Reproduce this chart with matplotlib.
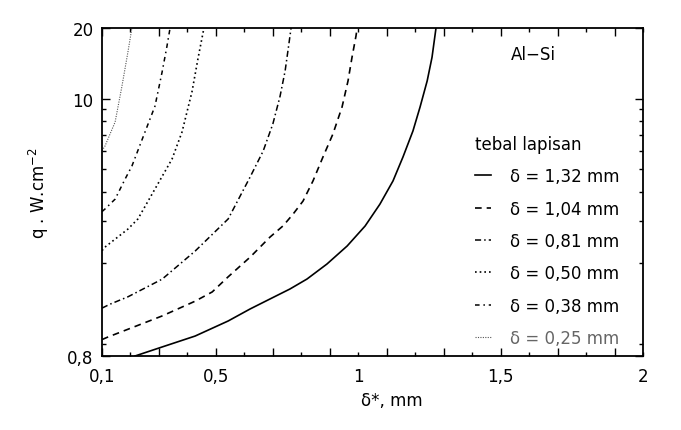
import numpy as np
import matplotlib
matplotlib.use("Agg")
from matplotlib import pyplot as plt
from matplotlib.ticker import FixedLocator, FixedFormatter, LogLocator, NullFormatter

plt.rcParams['font.family'] = ['DejaVu Sans']

# curves: x = delta* [mm], y = q [W/cm2]
x_132 = [0.216, 0.311, 0.427, 0.543, 0.620, 0.690, 0.760, 0.820, 0.890, 0.961, 1.024,
         1.076, 1.122, 1.157, 1.192, 1.217, 1.242, 1.259, 1.273]
y_132 = [0.80, 0.874, 0.973, 1.128, 1.269, 1.40, 1.544, 1.703, 1.973, 2.355, 2.865,
         3.55, 4.46, 5.64, 7.28, 9.21, 11.9, 15.0, 20.0]

x_104 = [0.1, 0.121, 0.191, 0.311, 0.427, 0.487, 0.543, 0.620, 0.690, 0.736, 0.771,
         0.806, 0.841, 0.876, 0.911, 0.943, 0.964, 0.978, 0.992, 0.996]
y_104 = [0.94, 0.964, 1.04, 1.185, 1.37, 1.50, 1.74, 2.11, 2.57, 2.87, 3.22,
         3.66, 4.46, 5.64, 7.07, 9.21, 11.9, 15.0, 18.5, 20.0]

x_081 = [0.1, 0.128, 0.191, 0.311, 0.427, 0.543, 0.620, 0.666, 0.700, 0.725, 0.743, 0.753, 0.764]
y_081 = [1.28, 1.33, 1.43, 1.70, 2.24, 3.07, 4.63, 5.98, 7.80, 10.2, 13.1, 16.0, 20.0]

x_050 = [0.1, 0.1105, 0.191, 0.226, 0.286, 0.346, 0.381, 0.416, 0.437, 0.458]
y_050 = [2.25, 2.33, 2.78, 3.07, 4.12, 5.53, 7.21, 10.7, 14.8, 20.0]

x_038 = [0.1, 0.111, 0.146, 0.181, 0.205, 0.251, 0.286, 0.311, 0.328, 0.339]
y_038 = [3.3, 3.39, 3.73, 4.54, 5.16, 7.21, 9.29, 12.98, 16.7, 20.0]

x_025 = [0.1, 0.1105, 0.146, 0.170, 0.191, 0.205]
y_025 = [6.0, 6.28, 7.95, 11.3, 15.8, 20.0]

labels = ['δ = 1,32 mm', 'δ = 1,04 mm', 'δ = 0,81 mm',
          'δ = 0,50 mm', 'δ = 0,38 mm', 'δ = 0,25 mm']

xmaj = [0.1, 0.3, 0.5, 0.7, 0.9, 1.1, 1.3, 1.5, 1.7, 1.9]
xmaj_lab = ['0,1', '', '0,5', '', '', '', '', '1,5', '', '']
xmin = [0.2, 0.4, 0.6, 0.8, 1.0, 1.2, 1.4, 1.6, 1.8, 2.0]
xmin_lab = ['', '', '', '', '1', '', '', '', '', '2']
yticks = [0.8, 10, 20]
ytick_lab = ['0,8', '10', '20']

fig = plt.figure(figsize=(6.81, 4.31), dpi=100)
ax = fig.add_axes([0.1498, 0.1717, 0.7944, 0.761])

ax.plot(x_132, y_132, color='black', lw=1.2, ls='-', label=labels[0])
ax.plot(x_104, y_104, color='black', lw=1.2, ls=(0, (4, 3)), label=labels[1])
ax.plot(x_081, y_081, color='black', lw=1.1, ls=(0, (4, 2, 1, 2)), label=labels[2])
ax.plot(x_050, y_050, color='black', lw=1.2, ls=(0, (1, 1.8)), label=labels[3])
ax.plot(x_038, y_038, color='black', lw=1.1, ls=(0, (3, 2.5, 1, 2.5)), label=labels[4])
ax.plot(x_025, y_025, color='#555555', lw=0.8, ls=(0, (1, 1.2)), label=labels[5])

ax.set_yscale('log')
ax.set_xlim(0.1, 2.0)
ax.set_ylim(0.8, 20)

ax.xaxis.set_major_locator(FixedLocator(xmaj))
ax.xaxis.set_major_formatter(FixedFormatter(xmaj_lab))
ax.xaxis.set_minor_locator(FixedLocator(xmin))
ax.xaxis.set_minor_formatter(FixedFormatter(xmin_lab))
ax.yaxis.set_major_locator(FixedLocator(yticks))
ax.yaxis.set_major_formatter(FixedFormatter(ytick_lab))
ax.yaxis.set_minor_locator(LogLocator(base=10, subs=np.arange(2, 10)))
ax.yaxis.set_minor_formatter(NullFormatter())

ax.tick_params(which='both', direction='in', top=True, right=True,
               labelsize=12, width=1.0)
ax.tick_params(axis='x', which='both', pad=8)
ax.tick_params(axis='y', which='both', pad=6)
ax.tick_params(which='major', length=6)
ax.tick_params(which='minor', length=3)
for s in ax.spines.values():
    s.set_linewidth(1.3)

ax.set_xlabel('δ*, mm', fontsize=12)
ax.xaxis.set_label_coords(0.535, -0.108)
ax.xaxis.label.set_verticalalignment('top')
ax.set_ylabel('q . W.cm$^{-2}$', fontsize=12)
ax.yaxis.set_label_coords(-0.095, 0.5)

ax.text(0.797, 0.921, 'Al\u2212Si', transform=ax.transAxes, fontsize=12,
        ha='center', va='center')

leg = ax.legend(title='tebal lapisan', loc='upper left', bbox_to_anchor=(0.69, 0.674),
                frameon=False, fontsize=12, title_fontsize=12, labelspacing=0.86,
                handlelength=0.95, handletextpad=1.15, borderpad=0, borderaxespad=0,
                alignment='left')
leg.get_texts()[-1].set_color('#666666')

plt.savefig('out.png', dpi=100)
